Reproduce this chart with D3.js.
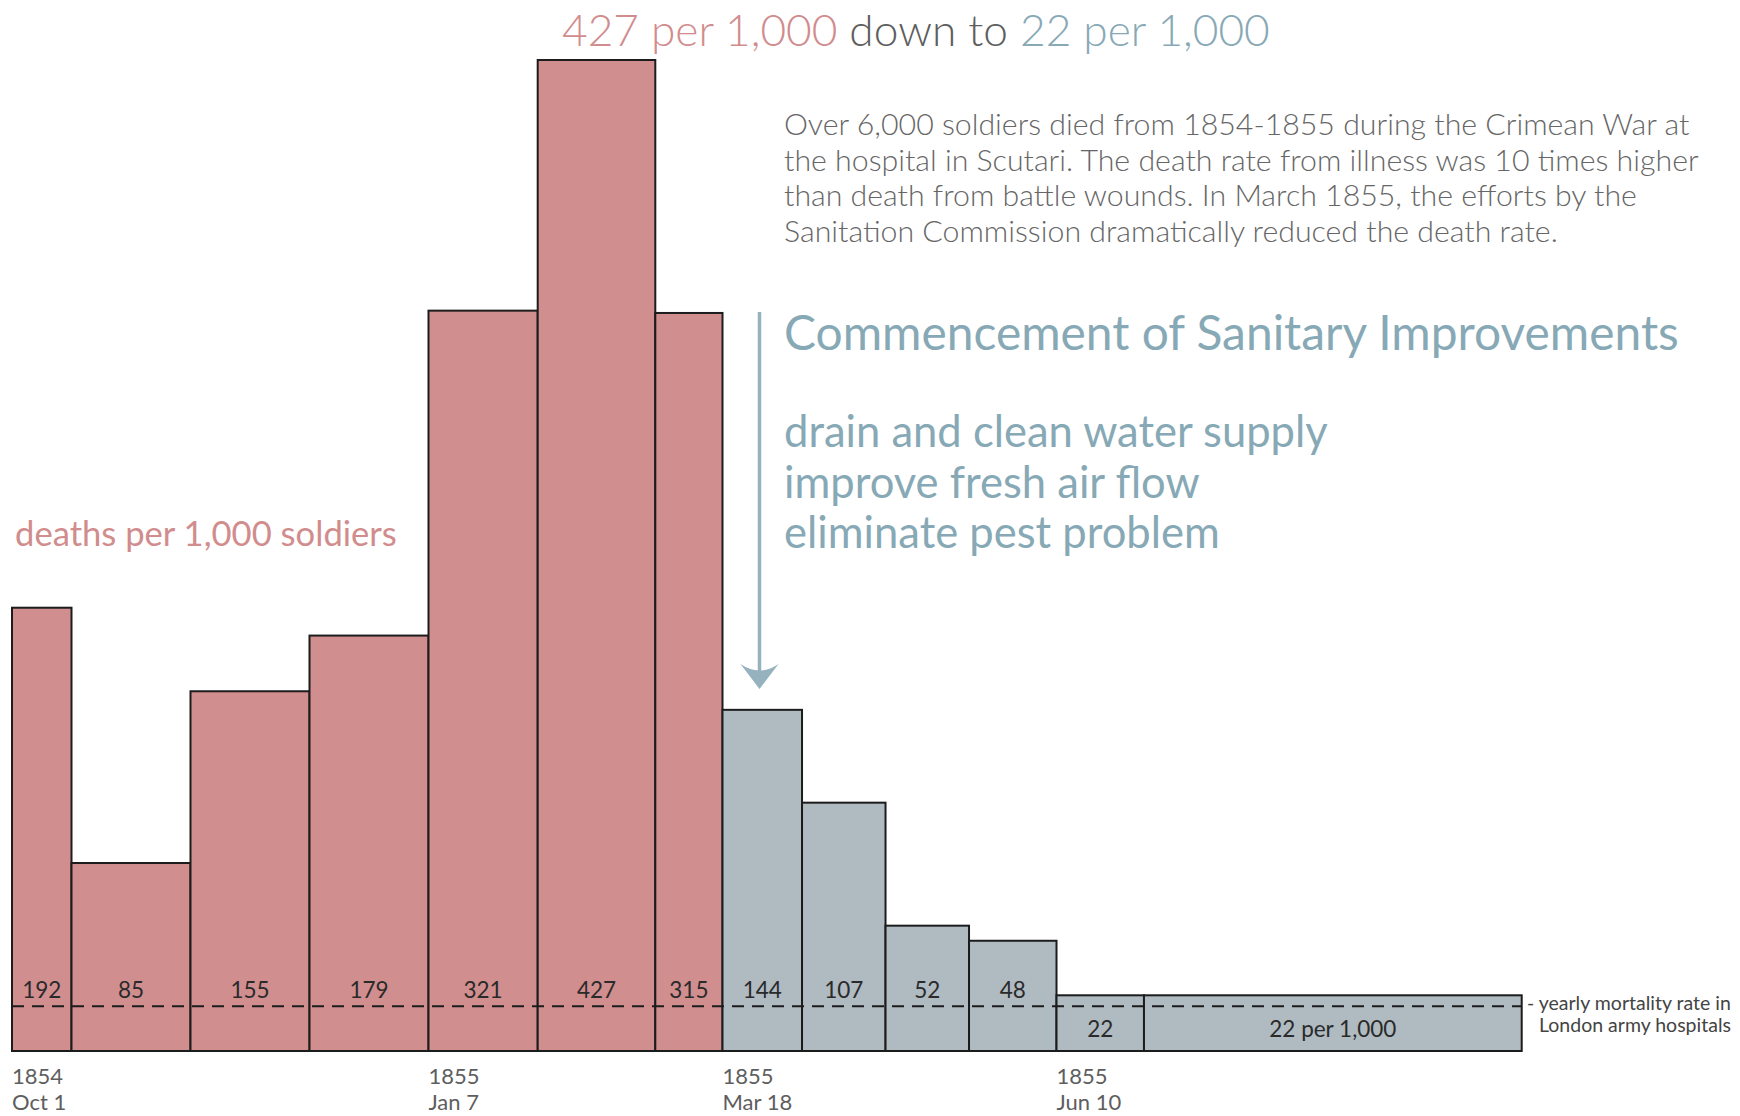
<!DOCTYPE html>
<html>
<head>
<meta charset="utf-8">
<script src="https://cdn.jsdelivr.net/npm/d3@7"></script>
<style>
  html, body { margin: 0; padding: 0; background: #fff; }
  svg { display: block; font-family: Lato, "Noto Sans", sans-serif; }
</style>
</head>
<body>
<svg id="chart" width="1740" height="1116"></svg>
<script>
// ---------- data ----------
const periodStarts = ["1854-10-01","1854-10-15","1854-11-12","1854-12-10","1855-01-07","1855-02-02","1855-03-02","1855-03-18","1855-04-07","1855-04-28","1855-05-19","1855-06-10","1855-07-02"];
const periodEnd = "1855-10-05";
// bar heights as drawn in the picture (deaths per 1,000)
const deathRates = [191, 81, 155, 179, 319, 427, 318, 147, 107, 54, 47.5, 24, 24];
// printed labels
const rateLabels = ["192","85","155","179","321","427","315","144","107","52","48","22","22 per 1,000"];
const tickDates = ["1854-10-01","1855-01-07","1855-03-18","1855-06-10"];
const tickYears = ["1854","1855","1855","1855"];
const tickDays = ["Oct 1","Jan 7","Mar 18","Jun 10"];
const londonRate = 19.3;
const sanitationStart = "1855-03-18";
const titleParts = ["427 per 1,000", " down to ", "22 per 1,000"];
const introLines = [
  "Over 6,000 soldiers died from 1854-1855 during the Crimean War at",
  "the hospital in Scutari. The death rate from illness was 10 times higher",
  "than death from battle wounds. In March 1855, the efforts by the",
  "Sanitation Commission dramatically reduced the death rate."
];
const improvementsTitle = "Commencement of Sanitary Improvements";
const improvements = ["drain and clean water supply", "improve fresh air flow", "eliminate pest problem"];
const yLabel = "deaths per 1,000 soldiers";
const londonLabel = ["- yearly mortality rate in", "London army hospitals"];

// ---------- style ----------
const RED = "#d18e8f", BLUE_BAR = "#afbac1", RED_TXT = "#d18c8d", BLUE_TXT = "#87a9b6",
      ARROW = "#95b2be", GREY_TXT = "#5e5e5e", DARK = "#1c1c1c";

const parse = d3.utcParse("%Y-%m-%d");
const svg = d3.select("#chart");

const x = d3.scaleUtc()
  .domain(tickDates.map(parse))
  .range([12, 428.5, 722.5, 1056.5]);
const y = d3.scaleLinear().domain([0, 427]).range([1051, 60]);

const bars = deathRates.map((v, i) => ({
  v, label: rateLabels[i],
  start: parse(periodStarts[i]),
  end: parse(i + 1 < periodStarts.length ? periodStarts[i + 1] : periodEnd)
}));
const cut = parse(sanitationStart);

function fit(sel, target) {
  const w = sel.node().getComputedTextLength();
  const fs = parseFloat(sel.attr("font-size"));
  sel.attr("font-size", fs * target / w);
}

// bars
svg.append("g").selectAll("rect").data(bars).join("rect")
  .attr("x", d => x(d.start))
  .attr("y", d => y(d.v))
  .attr("width", d => x(d.end) - x(d.start))
  .attr("height", d => y(0) - y(d.v))
  .attr("fill", d => d.start < cut ? RED : BLUE_BAR)
  .attr("stroke", DARK)
  .attr("stroke-width", 2);

// London rate dashed line
svg.append("line")
  .attr("x1", x(bars[0].start)).attr("x2", x(bars[bars.length - 1].end))
  .attr("y1", y(londonRate)).attr("y2", y(londonRate))
  .attr("stroke", DARK).attr("stroke-width", 2).attr("stroke-dasharray", "12,8");

// value labels
svg.append("g").selectAll("text").data(bars).join("text")
  .attr("x", d => (x(d.start) + x(d.end)) / 2)
  .attr("y", d => d.v < 30 ? (y(d.v) + y(0)) / 2 + 14 : 998)
  .attr("text-anchor", "middle")
  .attr("font-size", 22.5)
  .attr("fill", "#2a2a2a")
  .text(d => d.label);

// x axis tick labels
const ticks = svg.append("g").selectAll("text").data(tickDates).join("text")
  .attr("x", d => x(parse(d)))
  .attr("font-size", 22)
  .attr("fill", GREY_TXT);
ticks.append("tspan").attr("x", d => x(parse(d))).attr("y", 1084).text((d, i) => tickYears[i]);
ticks.append("tspan").attr("x", d => x(parse(d))).attr("y", 1110).text((d, i) => tickDays[i]);

// title
const title = svg.append("text").attr("x", 562).attr("y", 46).attr("font-size", 44).attr("font-weight", 300);
title.selectAll("tspan").data(titleParts).join("tspan")
  .attr("fill", (d, i) => [RED_TXT, GREY_TXT, BLUE_TXT][i])
  .style("white-space", "pre")
  .text(d => d);
fit(title, 708);

// intro paragraph
const intro = svg.append("g").attr("fill", "#666");
const introTexts = intro.selectAll("text").data(introLines).join("text")
  .attr("x", 784).attr("y", (d, i) => 135 + i * 35.5)
  .attr("font-size", 26).attr("font-weight", 300)
  .text(d => d);
const line2 = introTexts.filter((d, i) => i === 1);
fit(line2, 915);
introTexts.attr("font-size", line2.attr("font-size"));

// improvements
const impT = svg.append("text").attr("x", 784).attr("y", 350)
  .attr("font-size", 42).attr("fill", BLUE_TXT).text(improvementsTitle);
fit(impT, 895);
const impL = svg.append("g").selectAll("text").data(improvements).join("text")
  .attr("x", 784).attr("y", (d, i) => 447 + i * 50.5)
  .attr("font-size", 40).attr("fill", BLUE_TXT).text(d => d);
const first = impL.filter((d, i) => i === 0);
fit(first, 544);
impL.attr("font-size", first.attr("font-size"));

// arrow
const ax = 759.5, aTop = 312, aTip = 689;
svg.append("line").attr("x1", ax).attr("x2", ax).attr("y1", aTop).attr("y2", aTip - 12)
  .attr("stroke", ARROW).attr("stroke-width", 3.5);
svg.append("path")
  .attr("d", `M${ax},${aTip} L${ax - 19},${aTip - 25} Q${ax},${aTip - 12} ${ax + 19},${aTip - 25} Z`)
  .attr("fill", ARROW);

// y label
const yl = svg.append("text").attr("x", 15).attr("y", 546).attr("font-size", 32)
  .attr("fill", RED_TXT).text(yLabel);
fit(yl, 382);

// London annotation
const ll = svg.append("g").selectAll("text").data(londonLabel).join("text")
  .attr("x", (d, i) => i === 0 ? 1527 : 1539)
  .attr("y", (d, i) => 1010 + i * 22)
  .attr("font-size", 18).attr("fill", "#444").text(d => d);
const l0 = ll.filter((d, i) => i === 0);
fit(l0, 204);
ll.attr("font-size", l0.attr("font-size"));
</script>
</body>
</html>
